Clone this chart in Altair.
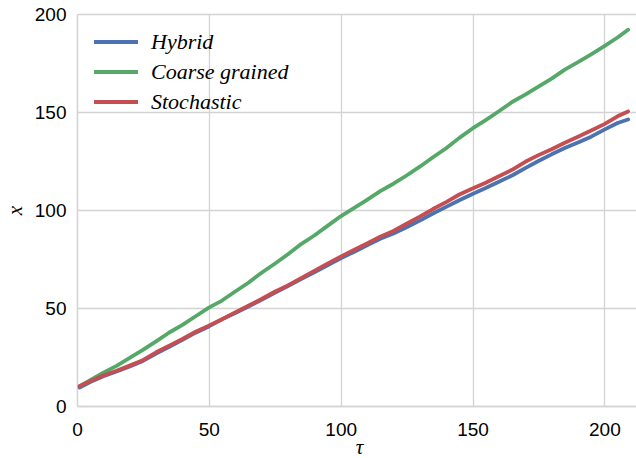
import altair as alt
import pandas as pd

tau = [1, 5, 10, 15, 20, 25, 30, 35, 40, 45, 50, 55, 60, 65, 70, 75, 80, 85, 90, 95,
       100, 105, 110, 115, 120, 125, 130, 135, 140, 145, 150, 155, 160, 165, 170, 175,
       180, 185, 190, 195, 200, 205, 209]

hybrid = [9.4, 12.2, 15.2, 17.6, 20.2, 23.0, 26.8, 30.2, 33.8, 37.4, 40.6, 44.2, 47.4, 50.8,
          54.2, 57.8, 61.2, 64.8, 68.2, 71.8, 75.4, 78.6, 82.0, 85.3, 88.0, 91.2, 94.6, 98.2,
          101.6, 105.0, 108.2, 111.2, 114.4, 117.6, 121.4, 125.0, 128.4, 131.6, 134.4, 137.4,
          141.0, 144.4, 146.2]

coarse = [10.0, 13.2, 17.0, 20.5, 24.5, 28.6, 33.0, 37.5, 41.4, 45.8, 50.2, 53.8, 58.4, 62.9,
          68.0, 72.6, 77.4, 82.6, 87.0, 91.9, 96.8, 101.0, 105.2, 109.6, 113.4, 117.6, 122.1,
          126.9, 131.5, 136.8, 141.6, 145.9, 150.4, 155.1, 158.9, 163.0, 167.0, 171.6, 175.4,
          179.4, 183.6, 188.0, 192.0]

stochastic = [10.2, 12.6, 15.6, 18.0, 20.6, 23.4, 27.4, 30.8, 34.2, 37.9, 41.0, 44.3, 47.8,
              51.2, 54.6, 58.3, 61.5, 65.2, 68.9, 72.6, 76.2, 79.6, 82.9, 86.4, 89.3, 93.0,
              96.6, 100.5, 104.0, 107.9, 111.0, 113.9, 117.2, 120.5, 124.6, 128.0, 131.0,
              134.3, 137.4, 140.6, 143.8, 147.8, 150.3]

series_names = ["Hybrid", "Coarse grained", "Stochastic"]
series_colors = ["#4c72b0", "#55a868", "#c44e52"]
x_ticks = [0, 50, 100, 150, 200]
y_ticks = [0, 50, 100, 150, 200]

rows = []
for name, vals in zip(series_names, [hybrid, coarse, stochastic]):
    for t, v in zip(tau, vals):
        rows.append({"tau": t, "x": v, "series": name})
df = pd.DataFrame(rows)

grid_color = "#d3d3d3"

color = alt.Color(
    "series:N",
    scale=alt.Scale(domain=series_names, range=series_colors),
    legend=alt.Legend(
        title=None,
        orient="none",
        legendX=26,
        legendY=15,
        symbolType="M-2,0H2",
        symbolSize=484,
        symbolStrokeWidth=4,
        labelFont="Liberation Serif",
        labelFontStyle="italic",
        labelFontSize=22,
        labelColor="black",
        labelOffset=22,
        rowPadding=6,
        padding=0,
    ),
)

xenc = alt.X(
    "tau:Q",
    scale=alt.Scale(domain=[0, 212], nice=False),
    axis=alt.Axis(
        title="τ",
        values=x_ticks,
        ticks=False,
        labelFlush=False,
        labelPadding=14,
        titleX=282,
        titleY=41,
        titleBaseline="middle",
        titleAlign="center",
    ),
)
yenc = alt.Y(
    "x:Q",
    scale=alt.Scale(domain=[0, 200], nice=False),
    axis=alt.Axis(
        title="x",
        values=y_ticks,
        ticks=False,
        labelFlush=False,
        labelPadding=11,
        titleX=-61.5,
        titleY=196,
        titleAngle=270,
        titleBaseline="middle",
        titleAlign="center",
    ),
)

layers = []
for name in series_names:
    layers.append(
        alt.Chart(df)
        .transform_filter(alt.datum.series == name)
        .mark_line(strokeWidth=3.8, strokeCap="round", strokeJoin="round")
        .encode(x=xenc, y=yenc, color=color)
    )

chart = (
    alt.layer(*layers)
    .properties(
        width=559,
        height=392,
        autosize=alt.AutoSizeParams(type="none"),
        padding={"left": 77, "top": 14, "right": 0, "bottom": 52},
        background="white",
    )
    .configure_view(stroke=None)
    .configure_axis(
        gridColor=grid_color,
        gridWidth=1.3,
        domainColor=grid_color,
        domainWidth=1.3,
        labelFont="Liberation Sans",
        labelFontSize=19,
        labelColor="black",
        titleFont="Liberation Serif",
        titleFontStyle="italic",
        titleFontWeight="normal",
        titleFontSize=21,
        titleColor="black",
    )
)

chart.save("out.html", embed_options={"renderer": "svg", "actions": False})
